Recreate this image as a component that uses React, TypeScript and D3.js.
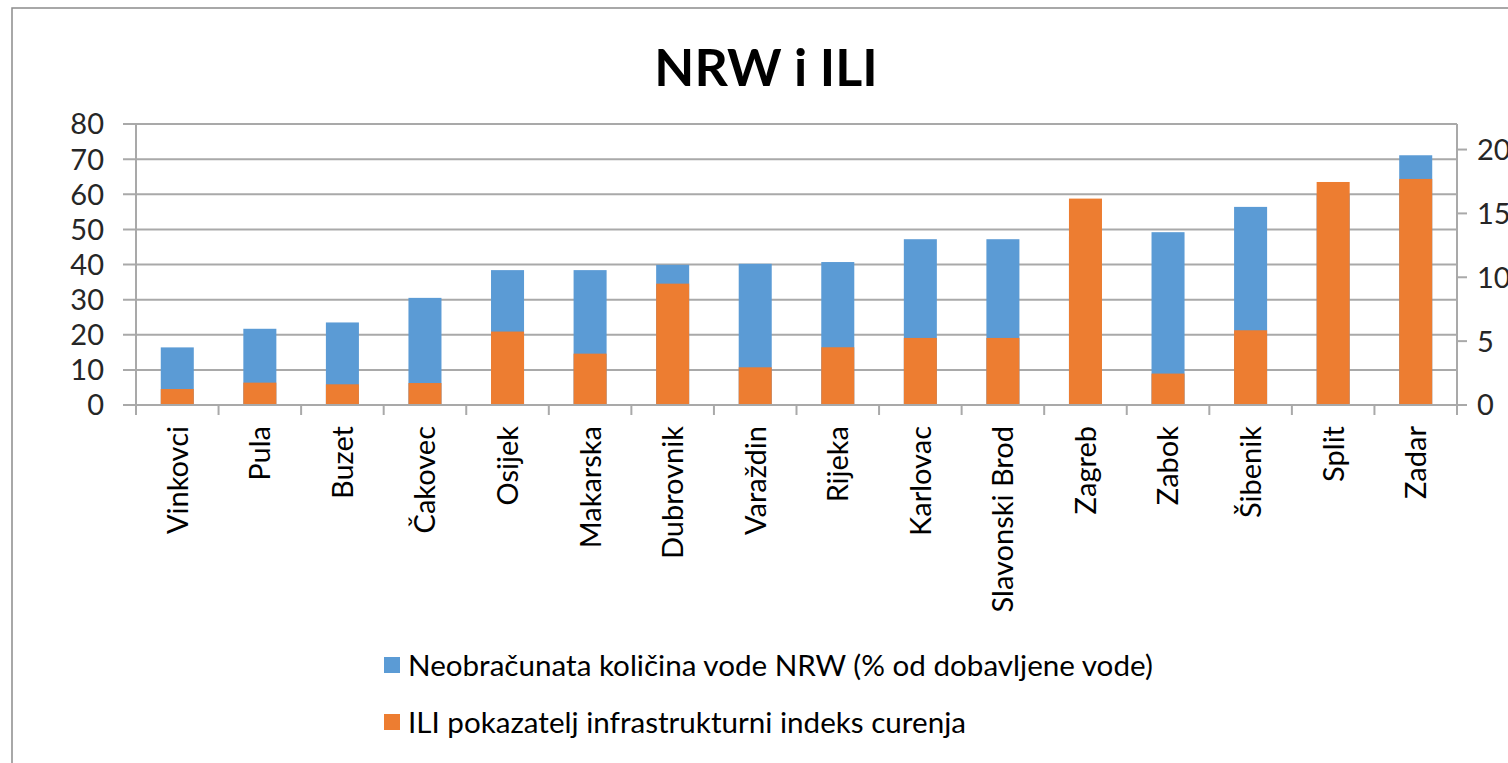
import { useEffect, useRef } from 'react';
import * as d3 from 'd3';

const cities = [
  'Vinkovci', 'Pula', 'Buzet', 'Čakovec', 'Osijek', 'Makarska', 'Dubrovnik', 'Varaždin',
  'Rijeka', 'Karlovac', 'Slavonski Brod', 'Zagreb', 'Zabok', 'Šibenik', 'Split', 'Zadar',
];
// NRW, % of supplied water (left axis)
const nrwValues = [16.4, 21.7, 23.5, 30.5, 38.4, 38.4, 39.9, 40.2, 40.7, 47.2, 47.2, 48, 49.2, 56.4, 60, 71.1];
// ILI index (right axis)
const iliValues = [1.25, 1.75, 1.62, 1.72, 5.75, 4.02, 9.5, 2.95, 4.52, 5.25, 5.25, 16.16, 2.46, 5.85, 17.46, 17.7];
const leftTicks = [0, 10, 20, 30, 40, 50, 60, 70, 80];
const rightTicks = [0, 5, 10, 15, 20];
const legendLabels = [
  'Neobračunata količina vode NRW (% od dobavljene vode)',
  'ILI pokazatelj infrastrukturni indeks curenja',
];

const BLUE = '#5b9bd5';
const ORANGE = '#ed7d31';
const GRID = '#a9a9a9';
const FONT = 'Lato, "Open Sans", sans-serif';

export default function App() {
  const svgRef = useRef<SVGSVGElement>(null);

  useEffect(() => {
    if (!svgRef.current) return;
    const width = 1508;
    const height = 763;
    const plot = { left: 136, right: 1457, top: 124, bottom: 405 };

    const svg = d3.select(svgRef.current);
    svg.selectAll('*').remove();
    svg.attr('width', width).attr('height', height);

    // chart frame (runs off the picture at right and bottom)
    svg.append('rect')
      .attr('x', 12).attr('y', 8)
      .attr('width', 1600).attr('height', 900)
      .attr('fill', 'white')
      .attr('stroke', '#8c8c8c')
      .attr('stroke-width', 1.5);

    svg.append('text')
      .attr('x', 766).attr('y', 86)
      .attr('text-anchor', 'middle')
      .attr('font-family', FONT)
      .attr('font-weight', 'bold')
      .attr('font-size', 52)
      .attr('fill', '#000')
      .text('NRW i ILI');

    const x = d3.scaleBand<string>()
      .domain(cities)
      .range([plot.left, plot.right])
      .paddingInner(0.6)
      .paddingOuter(0.3);
    const yLeft = d3.scaleLinear().domain([0, 80]).range([plot.bottom, plot.top]);
    const yRight = d3.scaleLinear().domain([0, 22]).range([plot.bottom, plot.top]);

    // gridlines + left ticks
    svg.append('g')
      .selectAll('line')
      .data(leftTicks)
      .enter()
      .append('line')
      .attr('x1', plot.left - 13)
      .attr('x2', plot.right)
      .attr('y1', d => yLeft(d))
      .attr('y2', d => yLeft(d))
      .attr('stroke', GRID)
      .attr('stroke-width', 2);

    svg.append('g')
      .selectAll('text')
      .data(leftTicks)
      .enter()
      .append('text')
      .attr('x', 104)
      .attr('y', d => yLeft(d))
      .attr('dy', '0.36em')
      .attr('text-anchor', 'end')
      .attr('font-family', FONT)
      .attr('font-size', 29)
      .attr('fill', '#262626')
      .text(d => d);

    // bars: blue NRW then orange ILI on top
    svg.append('g')
      .selectAll('rect')
      .data(cities)
      .enter()
      .append('rect')
      .attr('x', d => x(d)!)
      .attr('width', x.bandwidth())
      .attr('y', (d, i) => yLeft(nrwValues[i]))
      .attr('height', (d, i) => plot.bottom - yLeft(nrwValues[i]))
      .attr('fill', BLUE);

    svg.append('g')
      .selectAll('rect')
      .data(cities)
      .enter()
      .append('rect')
      .attr('x', d => x(d)!)
      .attr('width', x.bandwidth())
      .attr('y', (d, i) => yRight(iliValues[i]))
      .attr('height', (d, i) => plot.bottom - yRight(iliValues[i]))
      .attr('fill', ORANGE);

    // axis lines
    const axes = svg.append('g').attr('stroke', GRID).attr('stroke-width', 2);
    axes.append('line')
      .attr('x1', plot.left).attr('x2', plot.left)
      .attr('y1', plot.top).attr('y2', plot.bottom + 10);
    axes.append('line')
      .attr('x1', plot.right).attr('x2', plot.right)
      .attr('y1', plot.top).attr('y2', plot.bottom + 10);
    axes.append('line')
      .attr('x1', plot.left).attr('x2', plot.right)
      .attr('y1', plot.bottom).attr('y2', plot.bottom);

    // category tick marks between bands
    const step = x.step();
    axes.selectAll('.cat-tick')
      .data(cities.slice(1))
      .enter()
      .append('line')
      .attr('class', 'cat-tick')
      .attr('x1', d => x(d)! - (step - x.bandwidth()) / 2)
      .attr('x2', d => x(d)! - (step - x.bandwidth()) / 2)
      .attr('y1', plot.bottom)
      .attr('y2', plot.bottom + 10);

    // right axis ticks and labels (cut by the picture edge, as in the source)
    axes.selectAll('.r-tick')
      .data(rightTicks)
      .enter()
      .append('line')
      .attr('class', 'r-tick')
      .attr('x1', plot.right)
      .attr('x2', plot.right + 10)
      .attr('y1', d => yRight(d))
      .attr('y2', d => yRight(d));

    svg.append('g')
      .selectAll('text')
      .data(rightTicks)
      .enter()
      .append('text')
      .attr('x', 1477)
      .attr('y', d => yRight(d))
      .attr('dy', '0.36em')
      .attr('font-family', FONT)
      .attr('font-size', 29)
      .attr('fill', '#262626')
      .text(d => d);

    // rotated category labels
    svg.append('g')
      .selectAll('text')
      .data(cities)
      .enter()
      .append('text')
      .attr('transform', d => `translate(${x(d)! + x.bandwidth() / 2},426) rotate(-90)`)
      .attr('dy', '0.36em')
      .attr('text-anchor', 'end')
      .attr('font-family', FONT)
      .attr('font-size', 29)
      .attr('fill', '#000')
      .text(d => d);

    // legend
    const legend = svg.append('g')
      .selectAll('g')
      .data(legendLabels)
      .enter()
      .append('g')
      .attr('transform', (d, i) => `translate(384,${665 + i * 57})`);
    legend.append('rect')
      .attr('x', 0).attr('y', -8)
      .attr('width', 16).attr('height', 16)
      .attr('fill', (d, i) => (i === 0 ? BLUE : ORANGE));
    legend.append('text')
      .attr('x', 24)
      .attr('dy', '0.36em')
      .attr('font-family', FONT)
      .attr('font-size', 29.6)
      .attr('fill', '#000')
      .text(d => d);
  }, []);

  return (
    <div style={{ position: 'absolute', left: 0, top: 0, overflow: 'hidden', width: 1508, height: 763 }}>
      <svg ref={svgRef} style={{ display: 'block' }} />
    </div>
  );
}
